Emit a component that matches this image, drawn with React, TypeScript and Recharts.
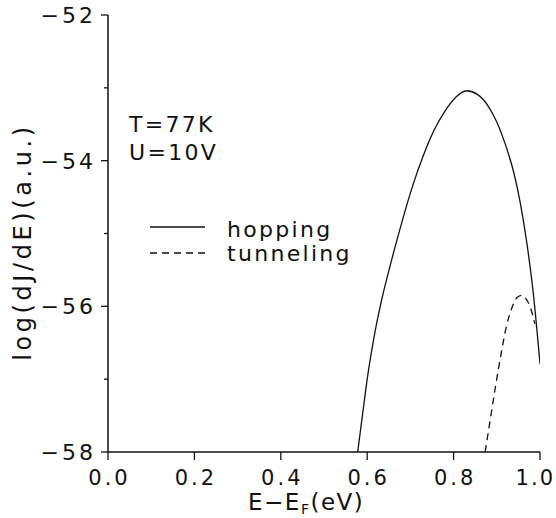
import { LineChart, Line, XAxis, YAxis } from 'recharts';

const hoppingE = [0.578, 0.59, 0.6, 0.615, 0.632, 0.655, 0.68, 0.705, 0.73, 0.755, 0.78, 0.805, 0.83, 0.855, 0.88, 0.9, 0.92, 0.94, 0.955, 0.97, 0.985, 1.0];
const hoppingLog = [-58, -57.45, -57.0, -56.45, -55.95, -55.4, -54.85, -54.35, -53.93, -53.58, -53.32, -53.13, -53.04, -53.09, -53.25, -53.47, -53.78, -54.18, -54.6, -55.15, -55.85, -56.79];

const tunnelingE = [0.873, 0.885, 0.897, 0.91, 0.922, 0.935, 0.947, 0.958, 0.968, 0.978, 0.988];
const tunnelingLog = [-58, -57.55, -57.1, -56.65, -56.28, -56.02, -55.88, -55.85, -55.9, -56.02, -56.24];

const xTicks = [0, 0.2, 0.4, 0.6, 0.8, 1.0];
const yTicks = [-58, -57, -56, -55, -54, -53, -52];

const hoppingData = hoppingE.map((e, i) => ({ e, log: hoppingLog[i] }));
const tunnelingData = tunnelingE.map((e, i) => ({ e, log: tunnelingLog[i] }));

const INK = '#111';
const FONT = '"DejaVu Sans", sans-serif';

const minus = (v: number) => (v < 0 ? '\u2212' + Math.abs(v) : String(v));

const YTick = (props: any) => {
  const { x, y, payload } = props;
  const major = payload.value % 2 === 0;
  return (
    <g>
      <line x1={x - (major ? 7 : 4)} x2={x} y1={y} y2={y} stroke={INK} strokeWidth={1.3} />
      {major && (
        <text x={x - 12} y={y} dy={8} textAnchor="end" fontFamily={FONT} fontSize={22} letterSpacing={3} fill={INK} stroke="none">
          {minus(payload.value)}
        </text>
      )}
    </g>
  );
};

const XTick = (props: any) => {
  const { x, y, payload } = props;
  // the last label sits against the right edge, as in the original
  const last = payload.value === 1;
  return (
    <g>
      <line x1={x} x2={x} y1={y} y2={y + 8} stroke={INK} strokeWidth={1.3} />
      <text
        x={last ? 555 : x + 1.5}
        y={y + 33}
        textAnchor={last ? 'end' : 'middle'}
        fontFamily={FONT}
        fontSize={21}
        letterSpacing={last ? 2 : 3}
        fill={INK}
        stroke="none"
      >
        {payload.value.toFixed(1)}
      </text>
    </g>
  );
};

const XLabel = () => (
  <text x={248} y={510} fontFamily={FONT} fontSize={23} letterSpacing={1.5} fill={INK}>
    <tspan>E{'\u2212'}E</tspan>
    <tspan fontSize={14} dy={4}>F</tspan>
    <tspan dy={-4}>(eV)</tspan>
  </text>
);

const YLabel = () => (
  <text x={31} y={242} transform="rotate(-90 31 242)" textAnchor="middle" fontFamily={FONT} fontSize={24} letterSpacing={3.6} fill={INK}>
    log(dJ/dE)(a.u.)
  </text>
);

export default function App() {
  return (
    <div style={{ position: 'absolute', left: 0, top: 0, width: 556, height: 518, background: '#fff' }}>
      <LineChart width={556} height={518} margin={{ top: 15, right: 16, left: 0, bottom: 0 }}>
        <XAxis
          dataKey="e"
          type="number"
          domain={[0, 1]}
          ticks={xTicks}
          height={66}
          tickSize={0}
          tickMargin={0}
          tickLine={false}
          tick={<XTick />}
          axisLine={{ stroke: INK, strokeWidth: 1.5 }}
          label={<XLabel />}
          interval={0}
          allowDataOverflow
        />
        <YAxis
          type="number"
          domain={[-58, -52]}
          ticks={yTicks}
          width={108}
          tickSize={0}
          tickMargin={0}
          tickLine={false}
          tick={<YTick />}
          axisLine={{ stroke: INK, strokeWidth: 1.5 }}
          label={<YLabel />}
          interval={0}
          allowDataOverflow
        />
        <Line data={hoppingData} dataKey="log" type="monotone" stroke={INK} strokeWidth={1.3} dot={false} isAnimationActive={false} />
        <Line data={tunnelingData} dataKey="log" type="monotone" stroke={INK} strokeWidth={1.3} strokeDasharray="7 5" dot={false} isAnimationActive={false} />
      </LineChart>
      <svg width={556} height={518} style={{ position: 'absolute', left: 0, top: 0, pointerEvents: 'none' }}>
        <g fontFamily={FONT} fontSize={22} letterSpacing={2.3} fill={INK}>
          <text x={129} y={132}>T=77K</text>
          <text x={129} y={160}>U=10V</text>
          <line x1={150} x2={205} y1={227} y2={227} stroke={INK} strokeWidth={1.3} />
          <text x={227} y={237}>hopping</text>
          <line x1={150} x2={205} y1={253} y2={253} stroke={INK} strokeWidth={1.3} strokeDasharray="7 5" />
          <text x={227} y={261}>tunneling</text>
        </g>
      </svg>
    </div>
  );
}
